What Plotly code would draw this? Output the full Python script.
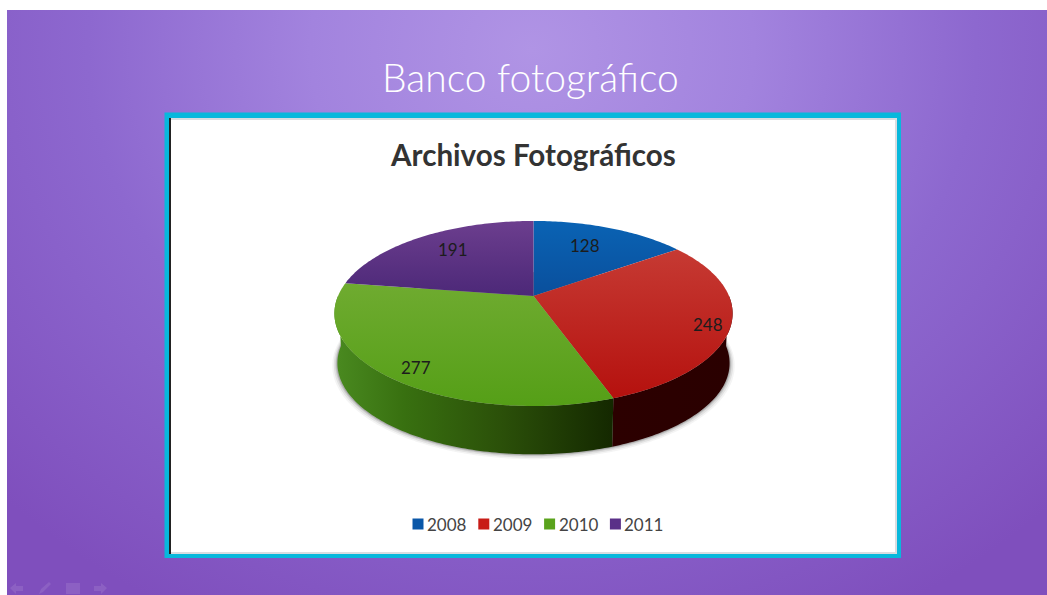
import base64
import math
import plotly.graph_objects as go

# ---- data ----
YEARS = ["2008", "2009", "2010", "2011"]
FILES = [128, 248, 277, 191]

# ---- style ----
TOP_COLORS = [
    ["#0a63b4", "#0a4f9c"],
    ["#c63a33", "#b5110e"],
    ["#6fab30", "#559f17"],
    ["#6c3e8e", "#4c2878"],
]
SIDE_COLORS = [
    [[0, "#0a2a55"], [1, "#0a2a55"]],
    [[0, "#2c0000"], [1, "#2a0000"]],
    [[0, "#4a8a20"], [0.25, "#387010"], [0.6, "#2b5009"], [1, "#142800"]],
    [[0, "#2a1540"], [1, "#2a1540"]],
]
LEGEND_COLORS = ["#0a57a8", "#c81c17", "#5aa31c", "#5a3088"]
LABEL_RADIUS = [(0.64, 0.72), (0.89, 1.0), (0.83, 0.90), (0.69, 0.77)]

W, H = 1047, 595
CX, CY = 533.5, 296.0      # apex of the pie on the page
A, B, P = 195.5, 89.2, 0.189  # perspective projection of the pie disc
DEPTH, BOTTOM_SCALE = 50.0, 0.985
LEGEND_X0, LEGEND_STEP, LEGEND_Y = 418.0, 65.8, 524.0


def project(theta, r=1.0, dy=0.0, scale=1.0):
    u, v = r * math.sin(theta), r * math.cos(theta)
    d = 1 + P * v
    return CX + scale * A * u / d, CY + dy + scale * B * -v / d


def arc(t0, t1, **kw):
    n = max(2, int(abs(t1 - t0) * 60))
    pts = [project(t0 + (t1 - t0) * i / n, **kw) for i in range(n + 1)]
    return [p[0] for p in pts], [p[1] for p in pts]


total = sum(FILES)
angles = [0.0]
for val in FILES:
    angles.append(angles[-1] + val / total * 2 * math.pi)

fig = go.Figure()

# soft shadow below the pie wall
for grow, alpha in [(5, 0.05), (3.5, 0.08), (2, 0.12), (1, 0.18)]:
    xs, ys = arc(0, 2 * math.pi, dy=DEPTH + grow * 0.4, scale=BOTTOM_SCALE + grow / A)
    fig.add_trace(go.Scatter(x=xs, y=ys, mode="none", fill="toself",
                             fillcolor=f"rgba(30,30,30,{alpha})",
                             showlegend=False, hoverinfo="skip"))

# pie wall
for i in range(len(FILES)):
    t0, t1 = max(angles[i], math.pi / 2), min(angles[i + 1], 1.5 * math.pi)
    if t1 <= t0:
        continue
    x1, y1 = arc(t0, t1)
    x2, y2 = arc(t1, t0, dy=DEPTH, scale=BOTTOM_SCALE)
    xs, ys = x1 + x2, y1 + y2
    fig.add_trace(go.Scatter(
        x=xs + xs[:1], y=ys + ys[:1], mode="none", fill="toself",
        fillgradient=dict(type="horizontal", colorscale=SIDE_COLORS[i],
                          start=min(xs), stop=max(xs)),
        showlegend=False, hoverinfo="skip"))

# pie top
for i, (year, val) in enumerate(zip(YEARS, FILES)):
    xs, ys = arc(angles[i], angles[i + 1])
    xs, ys = [CX] + xs + [CX], [CY] + ys + [CY]
    fig.add_trace(go.Scatter(
        x=xs, y=ys, mode="none", fill="toself", name=year,
        fillgradient=dict(type="vertical",
                          colorscale=[[0, TOP_COLORS[i][0]], [1, TOP_COLORS[i][1]]],
                          start=min(ys), stop=max(ys)),
        showlegend=False, hovertemplate=f"{year}: {val}<extra></extra>"))

annotations = []

# legend row
for i, (year, color) in enumerate(zip(YEARS, LEGEND_COLORS)):
    lx = LEGEND_X0 + i * LEGEND_STEP
    fig.add_trace(go.Scatter(
        x=[lx], y=[LEGEND_Y], mode="markers", name=year,
        marker=dict(symbol="square", size=11, color=color),
        showlegend=False, hoverinfo="skip"))
    annotations.append(dict(x=lx + 9, y=LEGEND_Y + 0.5, text=year, showarrow=False,
                            xanchor="left", xshift=-2,
                            font=dict(family="Lato", size=17, color="#444444")))

# value labels
for i, val in enumerate(FILES):
    mid = (angles[i] + angles[i + 1]) / 2
    rx, ry = LABEL_RADIUS[i]
    lx = project(mid, r=rx)[0]
    ly = project(mid, r=ry)[1]
    annotations.append(dict(x=lx, y=ly, text=str(val), showarrow=False,
                            font=dict(family="Lato", size=17, color="#1c1c1c")))

annotations.append(dict(x=530, y=77, text="Banco fotográfico", showarrow=False,
                        font=dict(family="Lato", size=39, color="#ffffff", weight=300)))
annotations.append(dict(x=533, y=154, text="<b>Archivos Fotográficos</b>", showarrow=False,
                        font=dict(family="Lato", size=29.6, color="#333333")))

# slide background
svg = '''<svg xmlns="http://www.w3.org/2000/svg" width="1040" height="585" viewBox="0 0 1040 585">
<defs><radialGradient id="g" gradientUnits="userSpaceOnUse" cx="0" cy="0" r="1"
 gradientTransform="translate(525 40) scale(740 640)">
<stop offset="0" stop-color="#b094e5"/><stop offset="0.3" stop-color="#a283de"/>
<stop offset="0.6" stop-color="#8d68cf"/><stop offset="1" stop-color="#7f4fbd"/>
</radialGradient></defs><rect width="1040" height="585" fill="url(#g)"/></svg>'''
bg = "data:image/svg+xml;base64," + base64.b64encode(svg.encode()).decode()

shapes = [
    dict(type="rect", x0=164.5, x1=901, y0=112.5, y1=558, fillcolor="#08b8dc", line_width=0, layer="between"),
    dict(type="rect", x0=169, x1=897, y0=118, y1=554, fillcolor="#d9dde0", line_width=0, layer="between"),
    dict(type="rect", x0=171, x1=895, y0=120, y1=552, fillcolor="#ffffff", line_width=0, layer="between"),
    dict(type="line", x0=170, x1=170, y0=118, y1=554, line=dict(color="#222222", width=2), layer="between"),
]
# faint slide-show buttons
NAV = ["M10 588 L16 583 L16 586 L23 586 L23 591 L16 591 L16 594 Z",
       "M39 594 L41 589 L49 582 L51 584 L43 592 Z",
       "M66 583 L80 583 L80 594 L66 594 Z",
       "M94 586 L101 586 L101 583 L107 588 L101 594 L101 591 L94 591 Z"]
for path in NAV:
    shapes.append(dict(type="path", path=path, fillcolor="rgba(255,255,255,0.1)", line_width=0))

fig.update_layout(
    width=W, height=H, margin=dict(l=0, r=0, t=0, b=0),
    paper_bgcolor="#ffffff", plot_bgcolor="rgba(0,0,0,0)",
    xaxis=dict(range=[0, W], visible=False, fixedrange=True),
    yaxis=dict(range=[H, 0], visible=False, fixedrange=True),
    images=[dict(source=bg, xref="x", yref="y", x=7, y=10, sizex=1040, sizey=585,
                 sizing="stretch", xanchor="left", yanchor="top", layer="below")],
    shapes=shapes, annotations=annotations, showlegend=False,
)

fig.write_html("out.html", post_script="document.body.style.margin='0';", config=dict(displayModeBar=False))
